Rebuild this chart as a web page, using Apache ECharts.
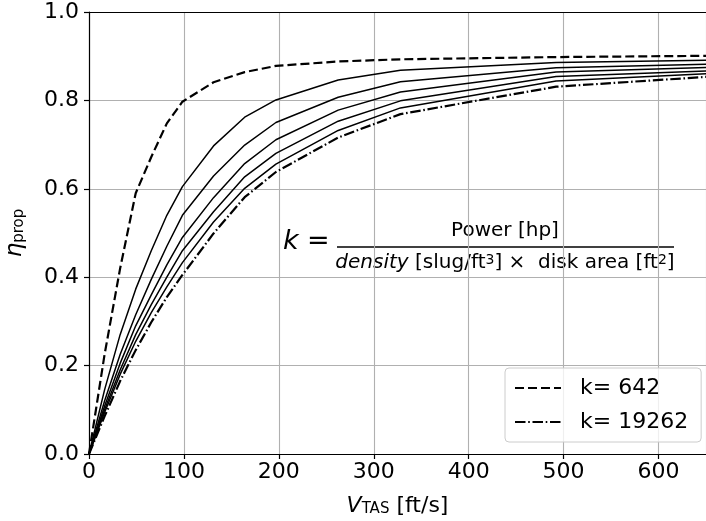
<!DOCTYPE html>
<html>
<head>
<meta charset="utf-8">
<script src="https://cdn.jsdelivr.net/npm/echarts@6/dist/echarts.min.js"></script>
<style>
  html, body { margin: 0; padding: 0; background: #ffffff; }
  #chart { width: 706px; height: 521px; }
</style>
</head>
<body>
<div id="chart"></div>
<script>
// True airspeed samples [ft/s]
const speedFtPerS = [0, 16.4, 32.8, 49.2, 65.6, 82, 98.4, 131.2, 164, 196.9, 262.5, 328.1, 492.1, 656.2];

// Propeller efficiency for increasing disk loading parameter k
const etaK642   = [0, 0.225, 0.42, 0.59, 0.672, 0.748, 0.797, 0.841, 0.864, 0.878, 0.888, 0.893, 0.898, 0.901];
const etaCurve2 = [0, 0.145, 0.27, 0.373, 0.46, 0.54, 0.605, 0.697, 0.762, 0.801, 0.846, 0.868, 0.886, 0.891];
const etaCurve3 = [0, 0.12, 0.225, 0.315, 0.395, 0.47, 0.54, 0.629, 0.699, 0.75, 0.807, 0.842, 0.874, 0.882];
const etaCurve4 = [0, 0.108, 0.205, 0.29, 0.36, 0.428, 0.49, 0.58, 0.657, 0.711, 0.778, 0.819, 0.864, 0.875];
const etaCurve5 = [0, 0.1, 0.19, 0.27, 0.338, 0.4, 0.46, 0.548, 0.627, 0.68, 0.753, 0.799, 0.854, 0.867];
const etaCurve6 = [0, 0.094, 0.18, 0.255, 0.32, 0.378, 0.433, 0.525, 0.601, 0.656, 0.732, 0.783, 0.844, 0.861];
const etaK19262 = [0, 0.085, 0.165, 0.235, 0.298, 0.355, 0.405, 0.499, 0.581, 0.638, 0.716, 0.769, 0.831, 0.854];

const xTicks = { min: 0, max: 650, interval: 100 };
const yTicks = { min: 0, max: 1.0, interval: 0.2 };

const FONT = 'DejaVu Sans';

function pairs(values) {
  return speedFtPerS.map((v, i) => [v, values[i]]);
}

function curve(name, values, type, width) {
  return {
    name: name,
    type: 'line',
    data: pairs(values),
    symbol: 'none',
    clip: true,
    silent: true,
    lineStyle: { color: '#000000', width: width, type: type },
    itemStyle: { color: '#000000' }
  };
}

const chart = echarts.init(document.getElementById('chart'), null, { renderer: 'canvas' });

chart.setOption({
  animation: false,
  backgroundColor: '#ffffff',
  grid: { left: 89, right: 0, top: 12, bottom: 67, containLabel: false, outerBoundsMode: 'none' },
  xAxis: [
    {
      type: 'value',
      min: xTicks.min, max: xTicks.max, interval: xTicks.interval,
      axisLine: { show: true, onZero: false, lineStyle: { color: '#000000', width: 1.2 } },
      axisTick: { show: true, inside: false, length: 5, lineStyle: { color: '#000000', width: 1.2 } },
      axisLabel: { color: '#000000', fontFamily: FONT, fontSize: 22, margin: 7, showMaxLabel: false },
      splitLine: { show: true, lineStyle: { color: '#b0b0b0', width: 1.1 } },
      name: '{it|V}{sub|TAS} [ft/s]',
      nameLocation: 'middle',
      nameGap: 41,
      nameTextStyle: {
        color: '#000000', fontFamily: FONT, fontSize: 22,
        rich: {
          it: { fontFamily: FONT, fontSize: 22, fontStyle: 'italic', color: '#000000' },
          sub: { fontFamily: FONT, fontSize: 15, color: '#000000', verticalAlign: 'bottom', lineHeight: 15 }
        }
      }
    },
    {
      type: 'value', position: 'top',
      min: xTicks.min, max: xTicks.max,
      axisLine: { show: true, onZero: false, lineStyle: { color: '#000000', width: 1.2 } },
      axisTick: { show: false }, axisLabel: { show: false }, splitLine: { show: false }
    }
  ],
  yAxis: {
    type: 'value',
    min: yTicks.min, max: yTicks.max, interval: yTicks.interval,
    axisLine: { show: true, onZero: false, lineStyle: { color: '#000000', width: 1.2 } },
    axisTick: { show: true, inside: false, length: 5, lineStyle: { color: '#000000', width: 1.2 } },
    axisLabel: { color: '#000000', fontFamily: FONT, fontSize: 22, margin: 10, formatter: v => v.toFixed(1) },
    splitLine: { show: true, lineStyle: { color: '#b0b0b0', width: 1.1 } },
    name: '{it|η}{sub|prop}',
    nameLocation: 'middle',
    nameGap: 62,
    nameTextStyle: {
      color: '#000000', fontFamily: FONT, fontSize: 22,
      rich: {
        it: { fontFamily: FONT, fontSize: 23, fontStyle: 'italic', color: '#000000' },
        sub: { fontFamily: FONT, fontSize: 15, color: '#000000', verticalAlign: 'bottom', lineHeight: 15 }
      }
    }
  },
  legend: {
    orient: 'vertical',
    left: 505, top: 368,
    padding: [9, 13, 9, 9],
    itemGap: 12,
    itemWidth: 46, itemHeight: 14,
    backgroundColor: 'rgba(255,255,255,0.8)',
    borderColor: '#cccccc', borderWidth: 1, borderRadius: 4,
    itemStyle: { color: 'rgba(0,0,0,0)', borderColor: 'rgba(0,0,0,0)', borderWidth: 0, opacity: 0 },
    textStyle: { color: '#000000', fontFamily: FONT, fontSize: 22, padding: [0, 0, 0, 14] },
    data: ['k= 642', 'k= 19262']
  },
  graphic: [
    { type: 'text', left: 283, top: 228, silent: true,
      style: { text: 'k', fontFamily: FONT, fontSize: 27, fontStyle: 'italic', fill: '#000000' } },
    { type: 'text', left: 307, top: 228, silent: true,
      style: { text: '=', fontFamily: FONT, fontSize: 27, fill: '#000000' } },
    { type: 'line', silent: true,
      shape: { x1: 337, y1: 247, x2: 674, y2: 247 },
      style: { stroke: '#000000', lineWidth: 1.4 } },
    { type: 'text', x: 505, y: 231, silent: true,
      style: { text: 'Power [hp]', fontFamily: FONT, fontSize: 20, fill: '#000000',
               align: 'center', verticalAlign: 'middle' } },
    { type: 'text', x: 505, y: 263, silent: true,
      style: {
        text: '{it|density} [slug/ft{sup|3}] ×  disk area [ft{sup|2}]',
        fontFamily: FONT, fontSize: 20, fill: '#000000',
        align: 'center', verticalAlign: 'middle',
        rich: {
          it: { fontFamily: FONT, fontSize: 20, fontStyle: 'italic', fill: '#000000' },
          sup: { fontFamily: FONT, fontSize: 14, fill: '#000000', verticalAlign: 'top', lineHeight: 14 }
        }
      } }
  ],
  series: [
    curve('k= 642', etaK642, [9, 4], 2.2),
    curve('k, curve 2', etaCurve2, 'solid', 1.5),
    curve('k, curve 3', etaCurve3, 'solid', 1.5),
    curve('k, curve 4', etaCurve4, 'solid', 1.5),
    curve('k, curve 5', etaCurve5, 'solid', 1.5),
    curve('k, curve 6', etaCurve6, 'solid', 1.5),
    curve('k= 19262', etaK19262, [10.5, 2.7, 1.6, 2.7], 2.2)
  ]
});
</script>
</body>
</html>
